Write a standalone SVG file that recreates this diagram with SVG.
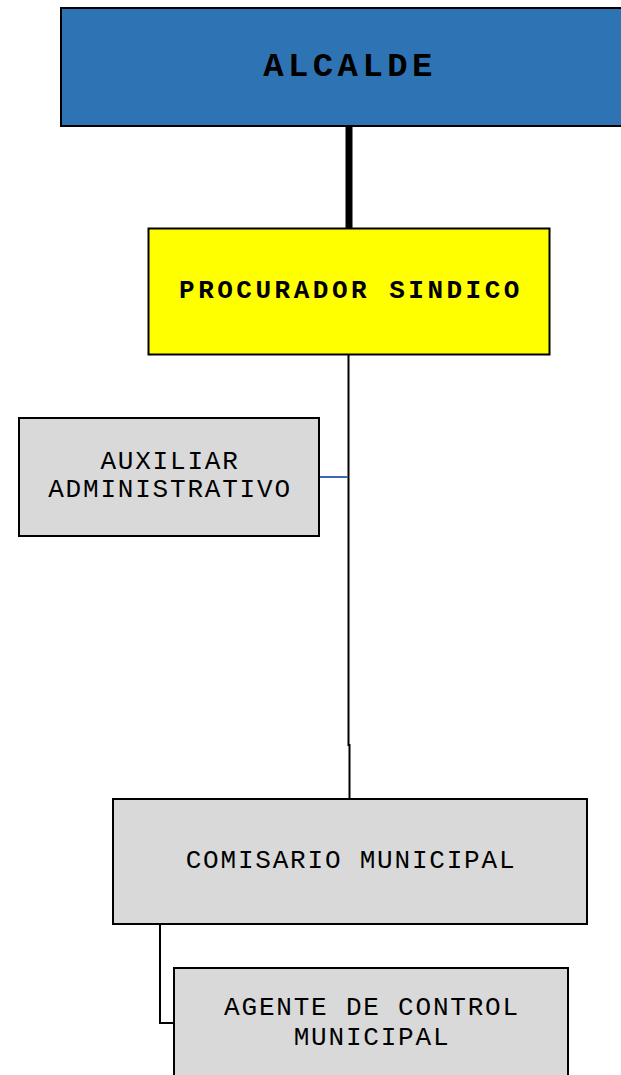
<svg xmlns="http://www.w3.org/2000/svg" width="621" height="1075" viewBox="0 0 621 1075">
<style>
.box{stroke:#000;stroke-width:2}
.t{font-family:"Liberation Mono","Courier New",monospace;font-size:26px;letter-spacing:1.8px;fill:#000;text-anchor:middle}
.b{font-weight:bold;letter-spacing:3.5px}
.c{fill:none;stroke:#000;stroke-width:2}
</style>
<rect width="621" height="1075" fill="#fff"/>
<g id="connectors">
<line x1="349" y1="126" x2="349" y2="229" stroke="#000" stroke-width="7"/>
<path class="c" d="M348.5 355 V745 H349.5 V799"/>
<line x1="319" y1="477" x2="348" y2="477" stroke="#3D68B3" stroke-width="2"/>
<path class="c" d="M160 925 V1023 H174"/>
</g>
<g id="alcalde">
<rect class="box" x="61" y="8" width="590" height="118" fill="#2E74B5"/>
<text class="t b" x="350" y="76" style="font-size:34px;letter-spacing:4.4px">ALCALDE</text>
</g>
<g id="procurador">
<rect class="box" x="148.5" y="228.5" width="401" height="126" fill="#FFFF00"/>
<text class="t b" x="351" y="298">PROCURADOR SINDICO</text>
</g>
<g id="auxiliar">
<rect class="box" x="19" y="418" width="300" height="118" fill="#D9D9D9"/>
<text class="t" x="170" y="469">AUXILIAR</text>
<text class="t" x="170" y="497">ADMINISTRATIVO</text>
</g>
<g id="comisario">
<rect class="box" x="113" y="799" width="474" height="125" fill="#D9D9D9"/>
<text class="t" x="351" y="868">COMISARIO MUNICIPAL</text>
</g>
<g id="agente">
<rect class="box" x="174" y="968" width="394" height="130" fill="#D9D9D9"/>
<text class="t" x="372" y="1015">AGENTE DE CONTROL</text>
<text class="t" x="372" y="1045">MUNICIPAL</text>
</g>
</svg>
